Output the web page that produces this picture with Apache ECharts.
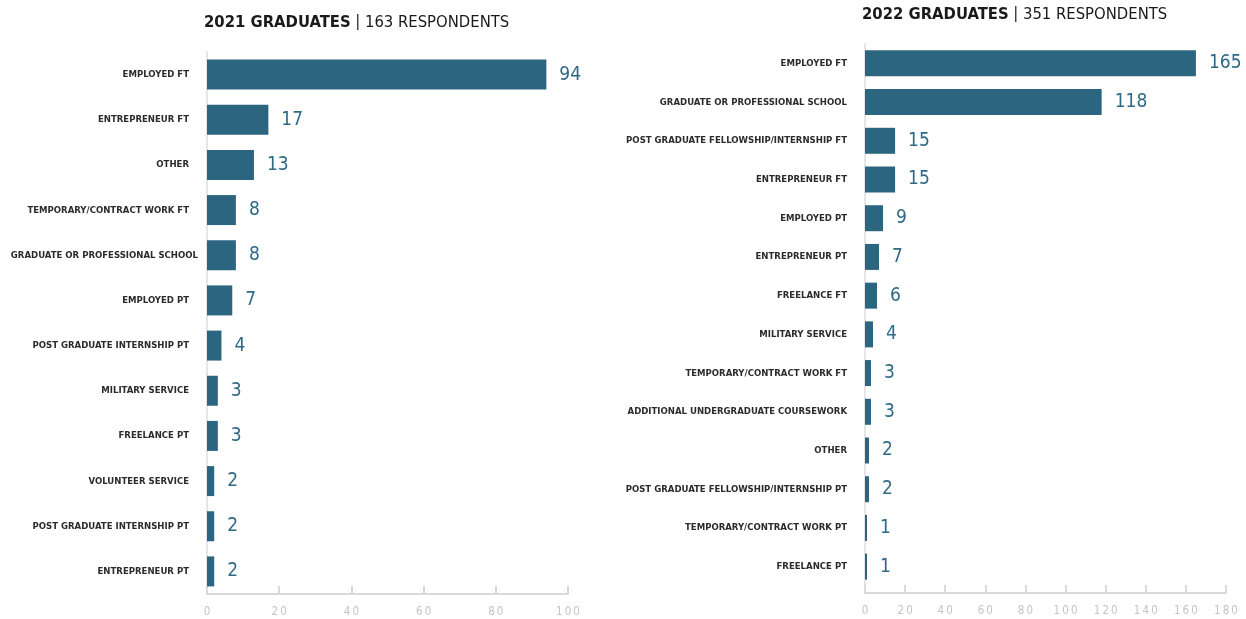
<!DOCTYPE html>
<html>
<head>
<meta charset="utf-8">
<script src="https://cdn.jsdelivr.net/npm/echarts@6/dist/echarts.min.js"></script>
<style>
html,body{margin:0;padding:0;background:#fff;}
#c{width:1246px;height:619px;}
</style>
</head>
<body>
<div id="c"></div>
<script>
const cats2021 = ["EMPLOYED FT","ENTREPRENEUR FT","OTHER","TEMPORARY/CONTRACT WORK FT","GRADUATE OR PROFESSIONAL SCHOOL","EMPLOYED PT","POST GRADUATE INTERNSHIP PT","MILITARY SERVICE","FREELANCE PT","VOLUNTEER SERVICE","POST GRADUATE INTERNSHIP PT","ENTREPRENEUR PT"];
const vals2021 = [94,17,13,8,8,7,4,3,3,2,2,2];
const cats2022 = ["EMPLOYED FT","GRADUATE OR PROFESSIONAL SCHOOL","POST GRADUATE FELLOWSHIP/INTERNSHIP FT","ENTREPRENEUR FT","EMPLOYED PT","ENTREPRENEUR PT","FREELANCE FT","MILITARY SERVICE","TEMPORARY/CONTRACT WORK FT","ADDITIONAL UNDERGRADUATE COURSEWORK","OTHER","POST GRADUATE FELLOWSHIP/INTERNSHIP PT","TEMPORARY/CONTRACT WORK PT","FREELANCE PT"];
const vals2022 = [165,118,15,15,9,7,6,4,3,3,2,2,1,1];
const ticks2021 = {min:0,max:100,interval:20};
const ticks2022 = {min:0,max:180,interval:20};
const title2021 = ["2021 GRADUATES","163 RESPONDENTS"];
const title2022 = ["2022 GRADUATES","351 RESPONDENTS"];

const F = '"DejaVu Sans Condensed","Liberation Sans Narrow",sans-serif';
const BAR = '#2b6580';
const LBL = '#2e6a86';

function titleOpt(t, left, top){
  return {
    left: left, top: top,
    text: '{b|' + t[0] + '}{s| | }{r|' + t[1] + '}',
    textStyle: {
      rich: {
        b: {fontFamily: F, fontWeight: 'bold', fontSize: 16.5, color: '#1a1a1a'},
        s: {fontFamily: F, fontSize: 15, color: '#444'},
        r: {fontFamily: F, fontWeight: 'normal', fontSize: 16.5, color: '#1a1a1a'}
      }
    }
  };
}
function xAx(idx, t, offset){
  return {
    type: 'value', gridIndex: idx, min: t.min, max: t.max, interval: t.interval, offset: offset,
    axisLine: {show: true, lineStyle: {color: '#d9d9d9', width: 2}},
    axisTick: {show: true, inside: true, length: 8, lineStyle: {color: '#d9d9d9', width: 2}},
    splitLine: {show: false},
    axisLabel: {fontFamily: F, fontSize: 11.5, color: '#c4c4c4', margin: 12,
      formatter: function(v){ return String(v).split('').join('\u2009'); }}
  };
}
function yAx(idx, cats){
  return {
    type: 'category', gridIndex: idx, data: cats, inverse: true,
    axisLine: {show: true, lineStyle: {color: '#e6e6e6', width: 2}},
    axisTick: {show: false},
    axisLabel: {fontFamily: F, fontWeight: 'bold', fontSize: 9.5, color: '#2b2b2b', margin: 9,
      formatter: function(v){ return v.length > 28 && idx === 0 ? '{w|' + v + '}' : '{n|' + v + '}'; },
      rich: {
        n: {fontFamily: F, fontWeight: 'bold', fontSize: 9.5, color: '#2b2b2b', padding: [0, 9, 0, 0]},
        w: {fontFamily: F, fontWeight: 'bold', fontSize: 9.5, color: '#2b2b2b'}
      }
    }
  };
}
function ser(idx, vals, bw){
  return {
    type: 'bar', xAxisIndex: idx, yAxisIndex: idx, data: vals, barWidth: bw,
    itemStyle: {color: BAR},
    label: {show: true, position: 'right', distance: 13, fontFamily: F, fontSize: 19, color: LBL},
    silent: true, animation: false
  };
}

const chart = echarts.init(document.getElementById('c'), null, {renderer: 'canvas'});
chart.setOption({
  animation: false,
  title: [titleOpt(title2021, 199, 9), titleOpt(title2022, 857, 1)],
  grid: [
    {left: 207, top: 52, width: 361, height: 542, outerBoundsMode: 'none', containLabel: false},
    {left: 865, top: 44, width: 361, height: 542, outerBoundsMode: 'none', containLabel: false}
  ],
  xAxis: [xAx(0, ticks2021, 0), xAx(1, ticks2022, 7)],
  yAxis: [yAx(0, cats2021), yAx(1, cats2022)],
  series: [ser(0, vals2021, 30), ser(1, vals2022, 26)]
});
</script>
</body>
</html>
